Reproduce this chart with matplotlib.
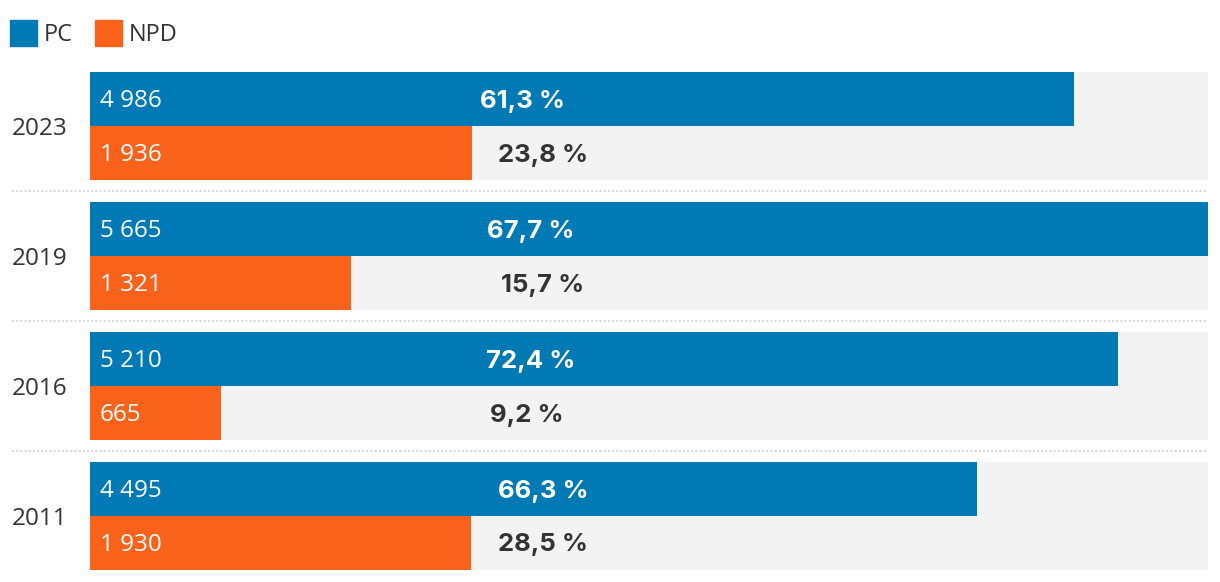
import matplotlib.pyplot as plt
from matplotlib.patches import Rectangle
from matplotlib.transforms import blended_transform_factory

years = ["2023", "2019", "2016", "2011"]
pc_votes = [4986, 5665, 5210, 4495]
npd_votes = [1936, 1321, 665, 1930]
pc_pct = [61.3, 67.7, 72.4, 66.3]
npd_pct = [23.8, 15.7, 9.2, 28.5]

BLUE = "#0079b4"
ORANGE = "#f9621b"
GREY = "#f3f3f3"
DARK = "#333333"

plt.rcParams['font.family'] = ['Open Sans', 'DejaVu Sans']

W, H = 1220, 582
fig = plt.figure(figsize=(W / 100, H / 100), dpi=100)
ax = fig.add_axes([90 / W, 12 / H, 1118 / W, 498 / H])
xmax = max(pc_votes)
ax.set_xlim(0, xmax)
ax.set_ylim(570, 72)
ax.axis('off')


def px(d):
    # pixel distance -> data units along x
    return d / 1118 * xmax


# percent label centres (pixels from the left of the figure)
pct_cx = [[523, 543], [531, 543], [531, 527], [543, 543]]

for i, yr in enumerate(years):
    top = 72 + i * 130
    for j, (votes, pct, col) in enumerate([(pc_votes[i], pc_pct[i], BLUE),
                                            (npd_votes[i], npd_pct[i], ORANGE)]):
        yc = top + 27 + j * 54
        ax.barh(yc, xmax, height=54, color=GREY, linewidth=0)
        ax.barh(yc, votes, height=54, color=col, linewidth=0)
        ax.text(px(10), yc + 8, f"{votes:,}".replace(",", " "), color="white",
                fontsize=17.5, ha="left", va="baseline")
        cx = px(pct_cx[i][j] - 90)
        tcol = "white" if votes > cx + px(50) else DARK
        ax.text(cx, yc + 8.5, f"{pct:.1f}".replace(".", ",") + " %", color=tcol,
                fontsize=18.5, fontweight="bold", family=["Inter", "DejaVu Sans"],
                ha="center", va="baseline")
    tr = blended_transform_factory(fig.transFigure, ax.transData)
    ax.text(12 / W, top + 54 + 9, yr, transform=tr, color=DARK, fontsize=17.5,
            ha="left", va="baseline")
    if i > 0:
        ax.plot([12 / W, 1208 / W], [top - 11, top - 11], transform=tr,
                color="#d9d9d9", linewidth=1.5, linestyle=(0, (1, 1)),
                clip_on=False)

# legend
for x0, col, lab in [(10, BLUE, "PC"), (95, ORANGE, "NPD")]:
    fig.patches.append(Rectangle((x0 / W, 1 - 46 / H), 27 / W, 26 / H,
                                 transform=fig.transFigure, color=col))
    fig.text((x0 + 34) / W, 1 - 41 / H, lab, color=DARK, fontsize=17,
             ha="left", va="baseline")

fig.savefig("out.png", dpi=100)
